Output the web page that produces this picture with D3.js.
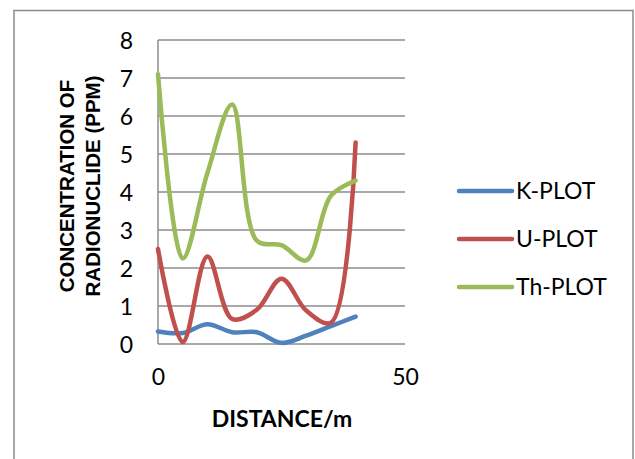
<!DOCTYPE html>
<html>
<head>
<meta charset="utf-8">
<script src="https://cdn.jsdelivr.net/npm/d3@7"></script>
<style>
  body { margin: 0; background: #fff; }
  text { font-family: Lato, "Open Sans", sans-serif; fill: #000; }
</style>
</head>
<body>
<script>
const width = 635;
const height = 459;

// distance (m)
const distance = [0, 5, 10, 15, 20, 25, 30, 35, 40];
const kPlot = [0.33, 0.29, 0.52, 0.31, 0.31, 0.03, 0.22, 0.47, 0.72];
const uPlot = [2.5, 0.05, 2.3, 0.66, 0.9, 1.72, 0.88, 0.56, 5.3];
const thPlot = [7.1, 2.25, 4.5, 6.3, 2.72, 2.6, 2.2, 3.9, 4.3];

const seriesNames = ["K-PLOT", "U-PLOT", "Th-PLOT"];
const seriesColors = ["#4F81BD", "#C0504D", "#9BBB59"];
const yTicks = [0, 1, 2, 3, 4, 5, 6, 7, 8];
const xTicks = [0, 50];

const series = [kPlot, uPlot, thPlot];

const svg = d3
  .select("body")
  .append("svg")
  .attr("width", width)
  .attr("height", height);

// outer chart border
svg
  .append("rect")
  .attr("x", 14)
  .attr("y", 10.5)
  .attr("width", 619)
  .attr("height", 460)
  .attr("fill", "none")
  .attr("stroke", "#8a8a8a")
  .attr("stroke-width", 1.5);

const xScale = d3.scaleLinear().domain([0, 50]).range([158, 405]);
const yScale = d3.scaleLinear().domain([0, 8]).range([344, 40]);

// gridlines
svg
  .append("g")
  .selectAll("line")
  .data(yTicks)
  .enter()
  .append("line")
  .attr("x1", xScale(0))
  .attr("x2", xScale(50))
  .attr("y1", (d) => yScale(d))
  .attr("y2", (d) => yScale(d))
  .attr("stroke", "#8c8c8c")
  .attr("stroke-width", 1.5);

// y axis line
svg
  .append("line")
  .attr("x1", xScale(0))
  .attr("x2", xScale(0))
  .attr("y1", yScale(0))
  .attr("y2", yScale(8))
  .attr("stroke", "#8c8c8c")
  .attr("stroke-width", 1.5);

// y tick labels
const yAxis = d3.axisLeft(yScale).tickValues(yTicks).tickSize(0).tickPadding(25);
const yg = svg.append("g").attr("transform", "translate(" + xScale(0) + ",0)").call(yAxis);
yg.select(".domain").remove();
yg.selectAll("text")
  .style("font-family", "Lato, sans-serif")
  .style("font-size", "23px")
  .attr("dy", "0.36em");

// x tick labels
const xAxis = d3.axisBottom(xScale).tickValues(xTicks).tickFormat(d3.format("d")).tickSize(0).tickPadding(25);
const xg = svg.append("g").attr("transform", "translate(0," + yScale(0) + ")").call(xAxis);
xg.select(".domain").remove();
xg.selectAll("text")
  .style("font-family", "Lato, sans-serif")
  .style("font-size", "23px")
  .attr("dy", "0.71em");

// smoothed lines (excel-like)
const line = d3
  .line()
  .x((d, i) => xScale(distance[i]))
  .y((d) => yScale(d))
  .curve(d3.curveCatmullRom.alpha(0.5));

svg
  .append("g")
  .selectAll("path")
  .data(series)
  .enter()
  .append("path")
  .attr("d", (d) => line(d))
  .attr("fill", "none")
  .attr("stroke", (d, i) => seriesColors[i])
  .attr("stroke-width", 4.5)
  .attr("stroke-linecap", "round")
  .attr("stroke-linejoin", "round");

// axis titles
svg
  .append("text")
  .attr("x", 282)
  .attr("y", 427)
  .attr("text-anchor", "middle")
  .style("font-weight", "bold")
  .style("font-size", "23px")
  .text("DISTANCE/m");

const yTitle = svg
  .append("text")
  .attr("transform", "translate(0,186) rotate(-90)")
  .attr("text-anchor", "middle")
  .style("font-family", "'Liberation Sans', Arial, sans-serif")
  .style("font-weight", "bold")
  .style("font-size", "20.5px");
yTitle.append("tspan").attr("x", 0).attr("y", 74).text("CONCENTRATION OF");
yTitle.append("tspan").attr("x", 0).attr("y", 100).text("RADIONUCLIDE (PPM)");

// legend
const legend = svg
  .append("g")
  .selectAll("g")
  .data(seriesNames)
  .enter()
  .append("g")
  .attr("transform", (d, i) => "translate(0," + (191 + i * 48) + ")");

legend
  .append("line")
  .attr("x1", 459)
  .attr("x2", 512)
  .attr("stroke", (d, i) => seriesColors[i])
  .attr("stroke-width", 4.5)
  .attr("stroke-linecap", "round");

legend
  .append("text")
  .attr("x", 516)
  .attr("y", 8)
  .style("font-size", "23px")
  .text((d) => d);
</script>
</body>
</html>
